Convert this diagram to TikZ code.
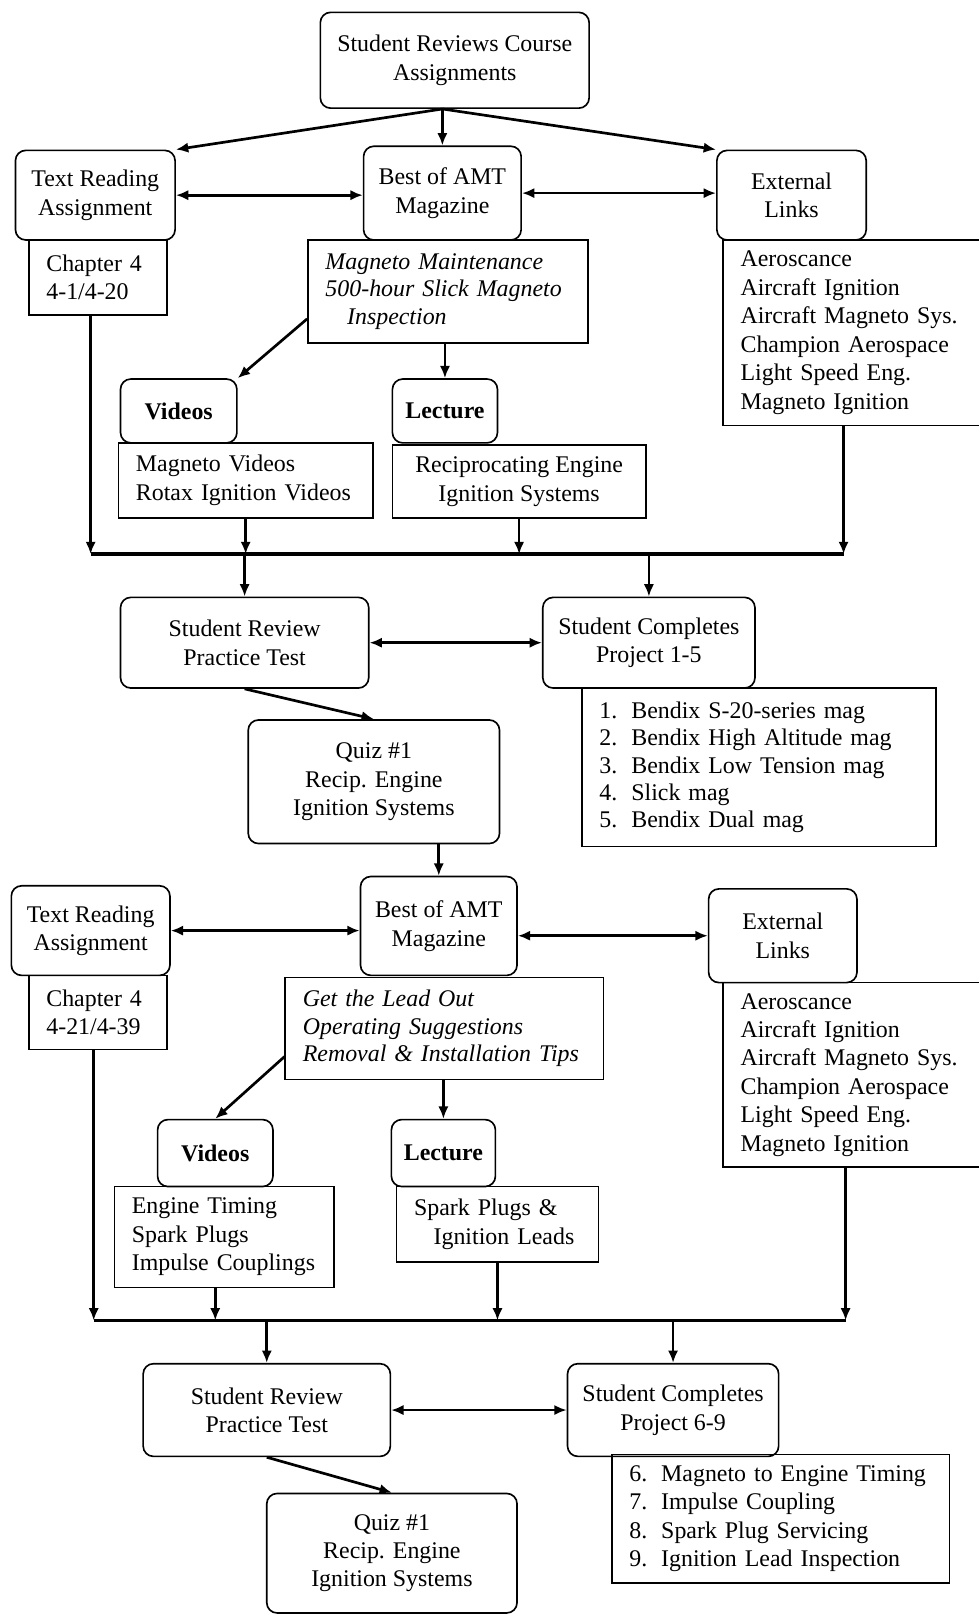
\documentclass[tikz,border=0pt]{standalone}
\usepackage{fontspec}
\setmainfont{Liberation Serif}
\usetikzlibrary{arrows.meta,calc}

\begin{document}
\begin{tikzpicture}[x=0.5pt, y=-0.5pt, font=\fontsize{11.6}{13.8}\selectfont]
      \tikzset{
	  roundbox/.style={rectangle,rounded corners=5pt,draw=black,line width=0.8pt, inner sep=0pt, align=center},
	  listbox/.style={rectangle,draw=black,line width=0.8pt, inner xsep=8.5pt, inner ysep=0pt, align=left},
	  textbox/.style={rectangle,draw=black,line width=0.8pt, inner sep=0pt, align=center},
	  flow/.style={-{Latex[length=6pt,width=5pt]}, line width=1.3pt},
	  twoway/.style={{Latex[length=6pt,width=5pt]}-{Latex[length=6pt,width=5pt]}, line width=1.3pt},
	  busline/.style={line width=1.6pt}
      }
      \useasboundingbox (0,0) rectangle (950,1568);
      \def\projitem#1#2{\makebox[15.5pt][l]{#1.}#2}

      % first chapter part
      \node at (441.5, 58.5) [roundbox, minimum width=130.5pt, minimum height=46.5pt] (top) {Student Reviews Course\\Assignments};
      \node at (92.5, 189.5) [roundbox, minimum width=77.5pt, minimum height=43.5pt] (read1) {Text Reading\\Assignment};
      \node at (429.5, 187.5) [roundbox, minimum width=76.5pt, minimum height=45.5pt] (amt1) {Best of AMT\\Magazine};
      \node at (768.5, 189.5) [roundbox, minimum width=72.5pt, minimum height=43.5pt] (ext1) {External\\Links};
      \node at (95, 269.5) [listbox, minimum width=67pt, minimum height=36.5pt, text width=50pt] (chap1) {Chapter 4\\4-1/4-20};
      \node at (435, 283) [listbox, minimum width=136pt, minimum height=50pt, text width=119pt, font=\fontsize{11.6}{13.2}\selectfont\itshape] (mag1)
	    {Magneto Maintenance\\500-hour Slick Magneto\\\hspace*{10.5pt}Inspection};
      \node at (831, 323) [listbox, minimum width=129pt, minimum height=90pt, text width=112pt] (extl1)
	    {Aeroscance\\Aircraft Ignition\\Aircraft Magneto Sys.\\Champion Aerospace\\Light Speed Eng.\\Magneto Ignition};
      \node at (173.5, 399) [roundbox, minimum width=56.5pt, minimum height=31pt] (vid1) {\textbf{Videos}};
      \node at (432, 399) [roundbox, minimum width=51pt, minimum height=31pt] (lec1) {\textbf{Lecture}};
      \node at (238.5, 466.5) [listbox, minimum width=123.5pt, minimum height=36.5pt, text width=106.5pt] (vidl1) {Magneto Videos\\Rotax Ignition Videos};
      \node at (504, 467.5) [textbox, minimum width=123pt, minimum height=35.5pt] (lecl1) {Reciprocating Engine\\Ignition Systems};
      \node at (237.5, 624) [roundbox, minimum width=120.5pt, minimum height=44pt] (sr1) {Student Review\\Practice Test};
      \node at (630, 624) [roundbox, minimum width=103pt, minimum height=44pt] (sc1) {Student Completes\\Project 1-5};
      \node at (737, 745) [listbox, minimum width=172pt, minimum height=77pt, text width=155pt, font=\fontsize{11.6}{13.2}\selectfont] (proj1)
	    {\projitem{1}{Bendix S-20-series mag}\\\projitem{2}{Bendix High Altitude mag}\\\projitem{3}{Bendix Low Tension mag}\\\projitem{4}{Slick mag}\\\projitem{5}{Bendix Dual mag}};
      \node at (363, 759) [roundbox, minimum width=122pt, minimum height=60pt] (quiz1) {Quiz \#1\\Recip. Engine\\Ignition Systems};

      \draw[flow] (amt1.north |- top.south) -- (read1.north east);
      \draw[flow] (amt1.north |- top.south) -- (amt1.north);
      \draw[flow] (amt1.north |- top.south) -- (ext1.north west);
      \draw[twoway] (read1.east) -- (read1.east -| amt1.west);
      \draw[twoway] (amt1.east) -- (amt1.east -| ext1.west);
      \draw[flow] (mag1.191) -- (vid1.north east);
      \draw[flow] (lec1.north |- mag1.south) -- (lec1.north);
      \coordinate (bus1w) at (88, 538);
      \coordinate (bus1e) at (819, 538);
      \draw[busline] (bus1w) -- (bus1e);
      \draw[flow] (chap1.south -| bus1w) -- (bus1w);
      \draw[flow] (vidl1.south) -- (vidl1.south |- bus1w);
      \draw[flow] (lecl1.south) -- (lecl1.south |- bus1w);
      \draw[flow] (bus1e |- extl1.south) -- (bus1e);
      \draw[flow] (sr1.north |- bus1w) -- (sr1.north);
      \draw[flow] (sc1.north |- bus1w) -- (sc1.north);
      \draw[twoway] (sr1.east) -- (sc1.west);
      \draw[flow] (sr1.south) -- (quiz1.north);

      % second chapter part
      \node at (88, 903.5) [roundbox, minimum width=77pt, minimum height=43.5pt] (read2) {Text Reading\\Assignment};
      \node at (426, 899) [roundbox, minimum width=76pt, minimum height=48pt] (amt2) {Best of AMT\\Magazine};
      \node at (760, 908.5) [roundbox, minimum width=72pt, minimum height=45.5pt] (ext2) {External\\Links};
      \node at (95, 983) [listbox, minimum width=67pt, minimum height=36pt, text width=50pt] (chap2) {Chapter 4\\4-21/4-39};
      \node at (431.5, 998.5) [listbox, minimum width=154.5pt, minimum height=49.5pt, text width=137.5pt, font=\fontsize{11.6}{13.2}\selectfont\itshape] (mag2)
	    {Get the Lead Out\\Operating Suggestions\\Removal \& Installation Tips};
      \node at (831, 1043.5) [listbox, minimum width=129pt, minimum height=89.5pt, text width=112pt] (extl2)
	    {Aeroscance\\Aircraft Ignition\\Aircraft Magneto Sys.\\Champion Aerospace\\Light Speed Eng.\\Magneto Ignition};
      \node at (209, 1119.5) [roundbox, minimum width=56pt, minimum height=32.5pt] (vid2) {\textbf{Videos}};
      \node at (430.5, 1119.5) [roundbox, minimum width=50.5pt, minimum height=32.5pt] (lec2) {\textbf{Lecture}};
      \node at (217.5, 1201) [listbox, minimum width=106.5pt, minimum height=49pt, text width=89.5pt] (vidl2) {Engine Timing\\Spark Plugs\\Impulse Couplings};
      \node at (483, 1188.5) [listbox, minimum width=98pt, minimum height=36.5pt, text width=81pt] (lecl2) {Spark Plugs \&\\\hspace*{9.5pt}Ignition Leads};
      \node at (259, 1369) [roundbox, minimum width=120pt, minimum height=45pt] (sr2) {Student Review\\Practice Test};
      \node at (653.5, 1369) [roundbox, minimum width=102.5pt, minimum height=45pt] (sc2) {Student Completes\\Project 6-9};
      \node at (758, 1474.5) [listbox, minimum width=164pt, minimum height=62.5pt, text width=147pt] (proj2)
	    {\projitem{6}{Magneto to Engine Timing}\\\projitem{7}{Impulse Coupling}\\\projitem{8}{Spark Plug Servicing}\\\projitem{9}{Ignition Lead Inspection}};
      \node at (380.5, 1508) [roundbox, minimum width=121.5pt, minimum height=58pt] (quiz2) {Quiz \#1\\Recip. Engine\\Ignition Systems};

      \draw[flow] (amt2.north |- quiz1.south) -- (amt2.north);
      \draw[twoway] (read2.east) -- (read2.east -| amt2.west);
      \draw[twoway] (ext2.west -| amt2.east) -- (ext2.west);
      \draw[flow] (mag2.190) -- (vid2.north);
      \draw[flow] (lec2.north |- mag2.south) -- (lec2.north);
      \coordinate (bus2w) at (91, 1282);
      \coordinate (bus2e) at (821, 1282);
      \draw[busline] (bus2w) -- (bus2e);
      \draw[flow] (chap2.south -| bus2w) -- (bus2w);
      \draw[flow] (vidl2.south -| vid2.south) -- (vid2.south |- bus2w);
      \draw[flow] (lecl2.south) -- (lecl2.south |- bus2w);
      \draw[flow] (bus2e |- extl2.south) -- (bus2e);
      \draw[flow] (sr2.north |- bus2w) -- (sr2.north);
      \draw[flow] (sc2.north |- bus2w) -- (sc2.north);
      \draw[twoway] (sr2.east) -- (sc2.west);
      \draw[flow] (sr2.south) -- (quiz2.north);
\end{tikzpicture}
\end{document}
